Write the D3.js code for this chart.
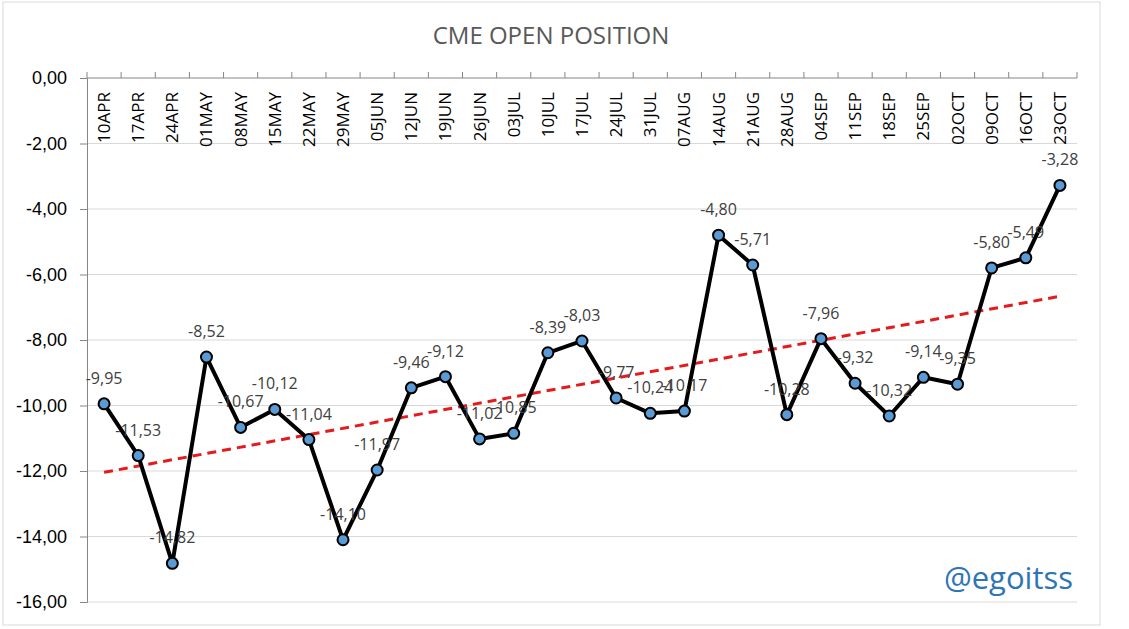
<!DOCTYPE html>
<html>
<head>
<meta charset="utf-8">
<script src="https://cdn.jsdelivr.net/npm/d3@7"></script>
<style>
  body { margin: 0; background: #fff; }
  svg { font-family: "Open Sans", "Noto Sans", sans-serif; }
  .grid line { stroke: #d9d9d9; stroke-width: 1; }
  .axis path, .axis line { stroke: #868686; }
</style>
</head>
<body>
<svg id="chart" width="1129" height="629"></svg>
<script>
  // weekly CME open position values
  const dates = ["10APR", "17APR", "24APR", "01MAY", "08MAY", "15MAY", "22MAY", "29MAY",
    "05JUN", "12JUN", "19JUN", "26JUN", "03JUL", "10JUL", "17JUL", "24JUL", "31JUL",
    "07AUG", "14AUG", "21AUG", "28AUG", "04SEP", "11SEP", "18SEP", "25SEP", "02OCT",
    "09OCT", "16OCT", "23OCT"];
  const positions = [-9.95, -11.53, -14.82, -8.52, -10.67, -10.12, -11.04, -14.10,
    -11.97, -9.46, -9.12, -11.02, -10.85, -8.39, -8.03, -9.77, -10.24,
    -10.17, -4.80, -5.71, -10.28, -7.96, -9.32, -10.32, -9.14, -9.35,
    -5.80, -5.49, -3.28];
  const y_ticks = [0, -2, -4, -6, -8, -10, -12, -14, -16];

  const locale = d3.formatLocale({decimal: ",", thousands: ".", grouping: [3], currency: ["", ""], minus: "-"});
  const fmt = locale.format(".2f");

  function make_scales(margin) {
    return {
      x: d3.scaleBand()
        .domain(dates)
        .range([margin.left, 1129 - margin.right]),
      y: d3.scaleLinear()
        .domain([-16, 0])
        .range([602, 78])
    }
  }

  function trend(values) {
    let n = values.length
    let mx = d3.mean(values, (d, i) => i)
    let my = d3.mean(values)
    let num = d3.sum(values, (d, i) => (i - mx) * (d - my))
    let den = d3.sum(values, (d, i) => (i - mx) * (i - mx))
    let slope = num / den
    return [0, n - 1].map(i => ({i: i, v: my + slope * (i - mx)}))
  }

  function visualize() {
    let margin = {top: 78, right: 52, bottom: 27, left: 87}
    let scales = make_scales(margin)
    let svg = d3.select("#chart")
    let cx = d => scales.x(d) + scales.x.bandwidth() / 2

    svg.append("rect")
      .attr("x", 3).attr("y", 2).attr("width", 1097).attr("height", 623)
      .attr("fill", "#fff").attr("stroke", "#d9d9d9")

    svg.append("text")
      .attr("x", 551).attr("y", 44)
      .attr("text-anchor", "middle")
      .attr("font-size", 24)
      .attr("fill", "#595959")
      .text("CME OPEN POSITION")

    // gridlines
    svg.append("g").attr("class", "grid")
      .selectAll("line")
      .data(y_ticks.filter(d => d != 0)).enter()
      .append("line")
      .attr("x1", margin.left).attr("x2", 1129 - margin.right)
      .attr("y1", d => scales.y(d)).attr("y2", d => scales.y(d))

    // y axis
    let y_axis = d3.axisLeft(scales.y).tickValues(y_ticks).tickSize(7).tickFormat(fmt)
    svg.append("g").attr("class", "axis")
      .attr("transform", `translate(${margin.left}, 0)`)
      .call(y_axis)
      .call(g => g.selectAll("text").attr("font-size", 18).attr("fill", "#000").attr("x", -20))

    // x axis at top, value 0
    let x0 = scales.y(0)
    let xg = svg.append("g").attr("class", "axis")
    xg.append("line")
      .attr("x1", margin.left).attr("x2", 1129 - margin.right)
      .attr("y1", x0).attr("y2", x0)
    xg.selectAll(".tk")
      .data(dates.concat(["end"])).enter()
      .append("line")
      .attr("class", "tk")
      .attr("x1", (d, i) => margin.left + i * scales.x.step())
      .attr("x2", (d, i) => margin.left + i * scales.x.step())
      .attr("y1", x0).attr("y2", x0 - 6)
    xg.selectAll("text")
      .data(dates).enter()
      .append("text")
      .attr("transform", d => `translate(${cx(d) + 6}, ${x0 + 14}) rotate(-90)`)
      .attr("text-anchor", "end")
      .attr("font-size", 17)
      .attr("fill", "#000")
      .text(d => d)

    // trend line
    let tr = trend(positions)
    svg.append("line")
      .attr("x1", cx(dates[tr[0].i])).attr("y1", scales.y(tr[0].v))
      .attr("x2", cx(dates[tr[1].i])).attr("y2", scales.y(tr[1].v))
      .attr("stroke", "#e41a1c").attr("stroke-width", 3)
      .attr("stroke-dasharray", "9,6")

    let data = dates.map((d, i) => ({date: d, v: positions[i]}))
    let path_generator = d3.line()
      .x(d => cx(d.date))
      .y(d => scales.y(d.v))

    svg.append("path")
      .datum(data)
      .attr("d", path_generator)
      .attr("fill", "none")
      .attr("stroke", "#000")
      .attr("stroke-width", 4)
      .attr("stroke-linejoin", "round")

    svg.append("g")
      .selectAll("circle")
      .data(data).enter()
      .append("circle")
      .attr("cx", d => cx(d.date))
      .attr("cy", d => scales.y(d.v))
      .attr("r", 5.5)
      .attr("fill", "#5b9bd5")
      .attr("stroke", "#000")
      .attr("stroke-width", 2)

    svg.append("g")
      .selectAll("text")
      .data(data).enter()
      .append("text")
      .attr("x", d => cx(d.date))
      .attr("y", d => scales.y(d.v) - 20)
      .attr("text-anchor", "middle")
      .attr("font-size", 16)
      .attr("fill", "#404040")
      .text(d => fmt(d.v))

    svg.append("text")
      .attr("x", 1073).attr("y", 589)
      .attr("text-anchor", "end")
      .attr("font-size", 31)
      .attr("fill", "#2e75b6")
      .text("@egoitss")
  }

  visualize()
</script>
</body>
</html>
